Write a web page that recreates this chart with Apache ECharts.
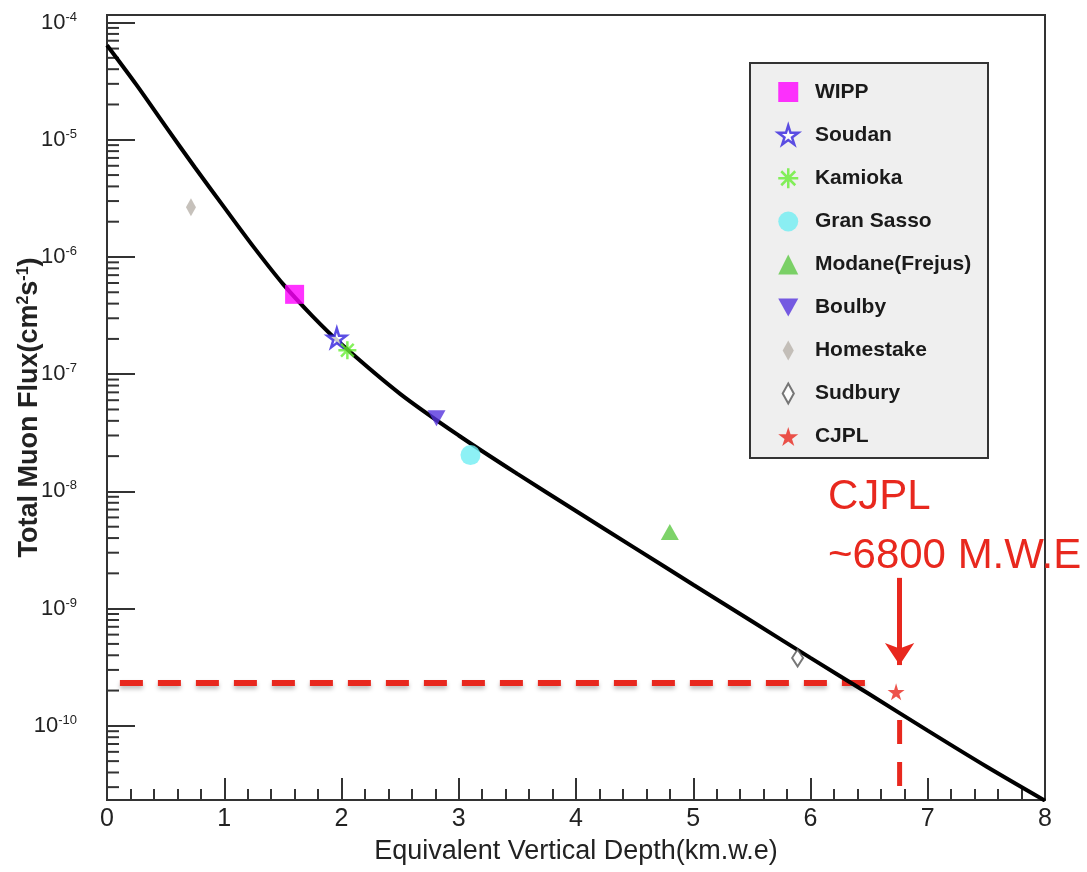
<!DOCTYPE html>
<html>
<head>
<meta charset="utf-8">
<script src="https://cdn.jsdelivr.net/npm/echarts@6/dist/echarts.min.js"></script>
<style>
  html, body { margin: 0; padding: 0; background: #fff; }
  #chart { width: 1087px; height: 872px; }
</style>
</head>
<body>
<div id="chart"></div>
<script>
// fitted depth-intensity curve
var curveDepth = [0, 0.25, 0.5, 0.75, 1, 1.25, 1.5, 1.75, 2, 2.5, 3, 3.5, 4, 4.5, 5, 5.5, 6, 6.5, 7, 7.5, 8];
var curveFlux = [6.4e-5, 2.95e-5, 1.3e-5, 5.8e-6, 2.65e-6, 1.22e-6, 5.9e-7, 3.15e-7, 1.8e-7, 6.8e-8, 3.0e-8, 1.41e-8, 6.8e-9, 3.3e-9, 1.6e-9, 7.8e-10, 3.8e-10, 1.87e-10, 9.1e-11, 4.5e-11, 2.3e-11];

// laboratories
var labNames = ['WIPP', 'Soudan', 'Kamioka', 'Gran Sasso', 'Modane(Frejus)', 'Boulby', 'Homestake', 'Sudbury', 'CJPL'];
var labDepth = [1.60, 1.96, 2.05, 3.10, 4.80, 2.81, 0.716, 5.89, 6.73];
var labFlux = [4.8e-7, 2.04e-7, 1.6e-7, 2.04e-8, 4.5e-9, 4.2e-8, 2.66e-6, 3.8e-10, 1.95e-10];

// CJPL annotation
var cjplLevel = [[0.11, 2.32e-10], [6.55, 2.32e-10]];
var cjplDrop = [[6.76, 1.12e-10], [6.76, 2.33e-11]];
var cjplArrow = [[6.76, 1.83e-9], [6.76, 3.3e-10]];
var cjplText = ['CJPL', '~6800 M.W.E'];

var yMin = 2.33e-11, yMax = 1.16e-4;
var xTicks = [0, 8, 1];

var STAR = 'path://M50,0 L61,35 L98,35 L68,57 L79,91 L50,70 L21,91 L32,57 L2,35 L39,35 Z';
var ASTER = 'path://M5,0 L5,10 M0,5 L10,5 M1.5,1.5 L8.5,8.5 M8.5,1.5 L1.5,8.5';
var DOWN = 'path://M0,0 L10,0 L5,9 Z';
var DIAM = 'path://M5,0 L10,9 L5,18 L0,9 Z';

var looks = [
  {symbol: 'rect', size: 19, style: {color: '#ff00ff'}},
  {symbol: STAR, size: 19, style: {color: '#ffffff', borderColor: '#3322dd', borderWidth: 2.5}},
  {symbol: ASTER, size: 18, style: {color: '#66ee33', borderColor: '#66ee33', borderWidth: 2.5}},
  {symbol: 'circle', size: 20, style: {color: '#70eef2'}},
  {symbol: 'triangle', size: [18, 16], style: {color: '#5cc844'}},
  {symbol: DOWN, size: [18, 16], style: {color: '#5533dd'}},
  {symbol: DIAM, size: [10, 18], style: {color: '#b8b2aa'}},
  {symbol: DIAM, size: [11, 17], style: {color: '#ffffff', borderColor: '#555555', borderWidth: 2}},
  {symbol: STAR, size: 17, style: {color: '#e8281e'}}
];

// log minor ticks (2..9 per decade) for the y axis
var yMinor = [];
for (var e = -11; e <= -4; e++) {
  for (var m = 2; m <= 9; m++) {
    var v = m * Math.pow(10, e);
    if (v > yMin && v < yMax) yMinor.push(v);
  }
}

var FONT = "'Liberation Sans', Arial, sans-serif";
var RED = '#e8281e';

var series = [];
series.push({
  name: 'curve',
  type: 'line',
  data: curveDepth.map(function (d, i) { return [d, curveFlux[i]]; }),
  showSymbol: false,
  smooth: 0.3,
  lineStyle: {color: '#000', width: 4},
  z: 3
});
series.push({
  name: 'minorY',
  type: 'custom',
  data: yMinor,
  renderItem: function (params, api) {
    var p = api.coord([0, api.value(0)]);
    return {type: 'line', shape: {x1: p[0], y1: p[1], x2: p[0] + 12, y2: p[1]}, style: {stroke: '#333', lineWidth: 2}};
  },
  encode: {y: 0},
  silent: true,
  z: 2
});
series.push({
  name: 'level',
  type: 'line',
  data: cjplLevel,
  showSymbol: false,
  lineStyle: {color: RED, width: 6, type: [23, 15], shadowColor: 'rgba(0,0,0,0.25)', shadowBlur: 4, shadowOffsetY: 3},
  z: 2
});
series.push({
  name: 'drop',
  type: 'line',
  data: cjplDrop,
  showSymbol: false,
  lineStyle: {color: RED, width: 5, type: [24, 18]},
  z: 2
});
series.push({
  name: 'arrow',
  type: 'line',
  data: [],
  markLine: {
    silent: true,
    symbol: ['none', 'arrow'],
    symbolSize: 22,
    label: {show: false},
    itemStyle: {color: RED},
    lineStyle: {color: RED, width: 5, type: 'solid'},
    data: [[{coord: cjplArrow[0]}, {coord: cjplArrow[1]}]]
  }
});
labNames.forEach(function (n, i) {
  series.push({
    name: n,
    type: 'scatter',
    data: [[labDepth[i], labFlux[i]]],
    symbol: looks[i].symbol,
    symbolSize: looks[i].size,
    itemStyle: looks[i].style,
    z: 5
  });
});

var chart = echarts.init(document.getElementById('chart'));
chart.setOption({
  animation: false,
  backgroundColor: '#fff',
  grid: {
    left: 107, right: 42, top: 15, bottom: 72,
    containLabel: false, outerBoundsMode: 'none',
    show: true, borderColor: '#333', borderWidth: 2, backgroundColor: 'transparent'
  },
  xAxis: {
    type: 'value',
    min: xTicks[0], max: xTicks[1], interval: xTicks[2],
    name: 'Equivalent Vertical Depth(km.w.e)',
    nameLocation: 'middle',
    nameGap: 38,
    nameMoveOverlap: false,
    nameTextStyle: {fontFamily: FONT, fontSize: 27, color: '#222'},
    axisLine: {lineStyle: {color: '#333', width: 2}},
    axisTick: {inside: true, length: 22, lineStyle: {color: '#333', width: 2}},
    minorTick: {show: true, splitNumber: 5, length: 11, lineStyle: {color: '#333', width: 2}},
    splitLine: {show: false},
    axisLabel: {fontFamily: FONT, fontSize: 25, color: '#222', margin: 7}
  },
  yAxis: {
    type: 'log',
    logBase: 10,
    min: yMin, max: yMax,
    name: 'Total Muon Flux(cm{sup|2}s{sup|-1})',
    nameLocation: 'middle',
    nameGap: 64,
    nameMoveOverlap: false,
    nameTextStyle: {
      fontFamily: FONT, fontSize: 27, fontWeight: 'bold', color: '#222',
      rich: {sup: {fontSize: 16, fontWeight: 'bold', color: '#222', verticalAlign: 'top', padding: [0, 0, 11, 0]}}
    },
    axisLine: {lineStyle: {color: '#333', width: 2}},
    axisTick: {inside: true, length: 28, lineStyle: {color: '#333', width: 2}},
    splitLine: {show: false},
    axisLabel: {
      fontFamily: FONT, fontSize: 22, color: '#222', margin: 30,
      showMinLabel: false, showMaxLabel: false,
      formatter: function (v) {
        return '10{sup|' + Math.round(Math.log10(v)) + '}';
      },
      rich: {sup: {fontFamily: FONT, fontSize: 13, color: '#222', verticalAlign: 'top', padding: [0, 0, 11, 0]}}
    }
  },
  legend: {
    orient: 'vertical',
    left: 772,
    top: 76,
    itemWidth: 20,
    itemHeight: 20,
    itemGap: 21,
    selectedMode: false,
    formatter: '  {name}',
    textStyle: {fontFamily: FONT, fontWeight: 'bold', fontSize: 21, color: '#1a1a1a', lineHeight: 22},
    data: labNames.map(function (n, i) {
      return {name: n, icon: looks[i].symbol, itemStyle: looks[i].style};
    }),
    z: 6
  },
  graphic: [
    {type: 'rect', z: 4, shape: {x: 750, y: 63, width: 238, height: 395}, style: {fill: '#efefef', stroke: '#333', lineWidth: 2}},
    {type: 'text', z: 6, x: 828, y: 497, style: {text: cjplText[0], font: "42px 'Liberation Sans', Arial, sans-serif", fill: RED, textVerticalAlign: 'middle'}},
    {type: 'text', z: 6, x: 828, y: 556, style: {text: cjplText[1], font: "42px 'Liberation Sans', Arial, sans-serif", fill: RED, textVerticalAlign: 'middle'}}
  ],
  series: series
});
</script>
</body>
</html>
